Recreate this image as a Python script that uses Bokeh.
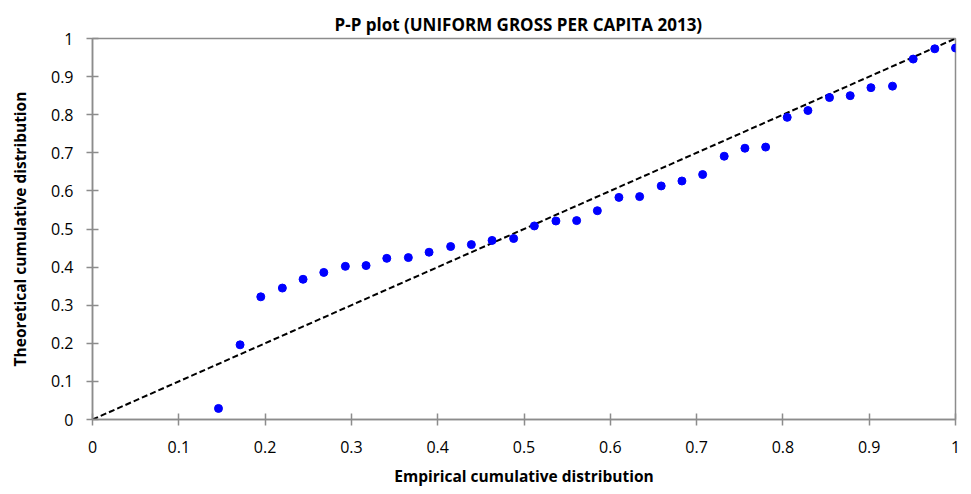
from bokeh.plotting import figure
from bokeh.models import Range1d, FixedTicker
from bokeh.embed import file_html
from bokeh.resources import INLINE

title_text = "P-P plot (UNIFORM GROSS PER CAPITA 2013)"
x_label = "Empirical cumulative distribution"
y_label = "Theoretical cumulative distribution"

empirical = [0.146, 0.171, 0.195, 0.220, 0.244, 0.268, 0.293, 0.317, 0.341,
             0.366, 0.390, 0.415, 0.439, 0.463, 0.488, 0.512, 0.537, 0.561,
             0.585, 0.610, 0.634, 0.659, 0.683, 0.707, 0.732, 0.756, 0.780,
             0.805, 0.829, 0.854, 0.878, 0.902, 0.927, 0.951, 0.976, 1.000]
theoretical = [0.029, 0.196, 0.322, 0.345, 0.368, 0.386, 0.402, 0.404, 0.423,
               0.425, 0.439, 0.454, 0.459, 0.470, 0.475, 0.508, 0.521, 0.522,
               0.548, 0.583, 0.585, 0.613, 0.626, 0.643, 0.691, 0.712, 0.715,
               0.793, 0.811, 0.845, 0.850, 0.871, 0.875, 0.946, 0.973, 0.975]
ref_x = [0, 1]
ref_y = [0, 1]
ticks = [0, 0.1, 0.2, 0.3, 0.4, 0.5, 0.6, 0.7, 0.8, 0.9, 1]
tick_labels = {0: "0", 0.1: "0.1", 0.2: "0.2", 0.3: "0.3", 0.4: "0.4", 0.5: "0.5",
               0.6: "0.6", 0.7: "0.7", 0.8: "0.8", 0.9: "0.9", 1: "1"}

FONT = "Open Sans"
AX = "#8c8c8c"

p = figure(width=971, height=494, output_backend="svg", toolbar_location=None,
           x_range=Range1d(0, 1), y_range=Range1d(0, 1),
           min_border_left=92, min_border_right=16, min_border_top=38, min_border_bottom=75)

p.title.text = title_text
p.title.align = "left"
p.title.offset = 242
p.title.text_font = FONT
p.title.text_font_size = "17px"
p.title.text_font_style = "bold"
p.title.text_color = "#000000"
p.title.standoff = 6

p.grid.visible = False
p.outline_line_color = AX
p.outline_line_width = 1.5

for ax in (p.xaxis[0], p.yaxis[0]):
    ax.ticker = FixedTicker(ticks=ticks)
    ax.major_label_overrides = tick_labels
    ax.axis_line_color = AX
    ax.axis_line_width = 1.5
    ax.major_tick_line_color = AX
    ax.major_tick_line_width = 1.5
    ax.major_tick_in = 6
    ax.major_tick_out = 6
    ax.minor_tick_line_color = None
    ax.major_label_text_font = FONT
    ax.major_label_text_font_size = "16px"
    ax.major_label_text_color = "#000000"
    ax.axis_label_text_font = FONT
    ax.axis_label_text_font_size = "15.5px"
    ax.axis_label_text_font_style = "bold"
    ax.axis_label_text_color = "#000000"

p.xaxis.axis_label = x_label
p.yaxis.axis_label = y_label
p.xaxis.major_label_standoff = 15
p.xaxis.axis_label_standoff = 9
p.yaxis.major_label_standoff = 13
p.yaxis.axis_label_standoff = 17

p.line(ref_x, ref_y, line_color="black", line_width=2, line_dash="6 3")
p.scatter(empirical, theoretical, size=8, fill_color="#0000ff", line_color="#0000ff")

open("out.html", "w").write(file_html(p, INLINE))
